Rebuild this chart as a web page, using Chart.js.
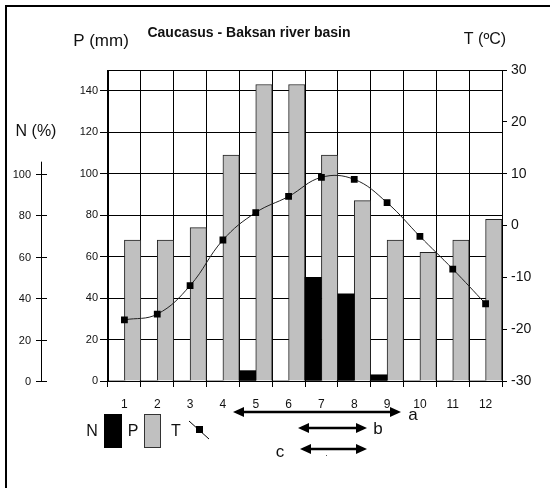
<!DOCTYPE html>
<html>
<head>
<meta charset="utf-8">
<script src="https://cdn.jsdelivr.net/npm/chart.js@4"></script>
<style>
  html, body { margin: 0; padding: 0; background: #fff; }
  #wrap { width: 550px; height: 488px; position: relative; }
</style>
</head>
<body>
<div id="wrap"><canvas id="chart"></canvas></div>
<script>
// months on the x axis
const months = ['1', '2', '3', '4', '5', '6', '7', '8', '9', '10', '11', '12'];
// N (%) - black bars
const nValues = [0, 0, 0, 0, 5, 0, 50, 42, 3, 0, 0, 0];
// P (mm) - grey bars
const pValues = [68, 68, 74, 109, 143, 143, 109, 87, 68, 62, 68, 78];
// T (ºC) - line with squares
const tValues = [-18.2, -17.1, -11.6, -2.8, 2.5, 5.6, 9.3, 8.9, 4.4, -2.1, -8.4, -15.1];
// N axis tick labels
const nTicks = [0, 20, 40, 60, 80, 100];

const FONT = "'Liberation Sans', Arial, sans-serif";
const TXT = '#111';

// extra drawing: frame, titles, N axis, legend and arrows
const extras = {
    id: 'extras',
    afterDraw(chart) {
        const ctx = chart.ctx;
        const area = chart.chartArea;
        const y = chart.scales.y;
        ctx.save();

        // frame (only top and left visible in the original)
        ctx.strokeStyle = '#000';
        ctx.lineWidth = 2;
        ctx.beginPath();
        ctx.moveTo(6, 488); ctx.lineTo(6, 6); ctx.lineTo(550, 6);
        ctx.stroke();

        // top border of plot
        ctx.lineWidth = 1;
        ctx.beginPath();
        ctx.moveTo(area.left, area.top + 0.5); ctx.lineTo(area.right, area.top + 0.5);
        ctx.stroke();

        ctx.fillStyle = TXT;
        ctx.textBaseline = 'middle';
        ctx.textAlign = 'center';
        ctx.font = 'bold 14px ' + FONT;
        ctx.fillText('Caucasus - Baksan river basin', 249, 33);
        ctx.font = '17px ' + FONT;
        ctx.fillText('P (mm)', 101, 41);
        ctx.font = '16px ' + FONT;
        ctx.fillText('T (ºC)', 485, 40);
        ctx.fillText('N (%)', 36, 132);

        // N axis
        const nx = 41.5;
        ctx.beginPath();
        ctx.moveTo(nx, y.getPixelForValue(100) - 12);
        ctx.lineTo(nx, y.getPixelForValue(0));
        ctx.stroke();
        ctx.font = '11px ' + FONT;
        ctx.textAlign = 'right';
        nTicks.forEach(v => {
            const py = Math.round(y.getPixelForValue(v)) + 0.5;
            ctx.beginPath();
            ctx.moveTo(36, py); ctx.lineTo(47, py);
            ctx.stroke();
            ctx.fillText(String(v), 31, py);
        });

        // legend
        ctx.textAlign = 'center';
        ctx.font = '16px ' + FONT;
        ctx.fillText('N', 92, 432);
        ctx.fillStyle = '#000';
        ctx.fillRect(104, 414, 18, 34);
        ctx.fillStyle = TXT;
        ctx.fillText('P', 133, 432);
        ctx.fillStyle = '#c0c0c0';
        ctx.fillRect(144, 414, 17, 34);
        ctx.strokeStyle = '#333';
        ctx.strokeRect(144.5, 414.5, 16, 33);
        ctx.fillStyle = TXT;
        ctx.fillText('T', 176, 432);
        ctx.strokeStyle = '#000';
        ctx.beginPath();
        ctx.moveTo(189, 421); ctx.lineTo(209, 439);
        ctx.stroke();
        ctx.fillStyle = '#000';
        ctx.fillRect(196, 426, 7, 7);

        // arrows
        function arrow(x1, x2, yy) {
            ctx.strokeStyle = '#000';
            ctx.fillStyle = '#000';
            ctx.lineWidth = 2.5;
            ctx.beginPath();
            ctx.moveTo(x1 + 8, yy); ctx.lineTo(x2 - 8, yy);
            ctx.stroke();
            ctx.beginPath();
            ctx.moveTo(x1, yy); ctx.lineTo(x1 + 11, yy - 5); ctx.lineTo(x1 + 11, yy + 5); ctx.closePath();
            ctx.fill();
            ctx.beginPath();
            ctx.moveTo(x2, yy); ctx.lineTo(x2 - 11, yy - 5); ctx.lineTo(x2 - 11, yy + 5); ctx.closePath();
            ctx.fill();
        }
        arrow(233, 401, 412);
        arrow(298, 367, 428);
        arrow(300, 367, 449);
        ctx.fillStyle = TXT;
        ctx.font = '17px ' + FONT;
        ctx.fillText('a', 413, 415);
        ctx.fillText('b', 378, 429);
        ctx.fillText('c', 280, 452);
        ctx.fillStyle = '#555';
        ctx.fillRect(326, 455, 1, 1);

        ctx.restore();
    }
};

new Chart(document.getElementById('chart'), {
    type: 'bar',
    data: {
        labels: months,
        datasets: [
            {
                label: 'N',
                data: nValues,
                backgroundColor: '#000',
                borderWidth: 0,
                barPercentage: 1,
                categoryPercentage: 1,
                yAxisID: 'y',
                order: 2
            },
            {
                label: 'P',
                data: pValues,
                backgroundColor: '#c0c0c0',
                borderColor: '#222',
                borderWidth: 1,
                barPercentage: 1,
                categoryPercentage: 1,
                yAxisID: 'y',
                order: 2
            },
            {
                type: 'line',
                label: 'T',
                data: tValues,
                borderColor: '#222',
                borderWidth: 1,
                tension: 0.4,
                pointStyle: 'rect',
                pointRadius: 4.8,
                pointBackgroundColor: '#000',
                pointBorderColor: '#000',
                pointBorderWidth: 0,
                yAxisID: 't',
                order: 0
            }
        ]
    },
    options: {
        responsive: true,
        maintainAspectRatio: false,
        animation: false,
        layout: { padding: { top: 70, left: 0, right: 0, bottom: 0 } },
        plugins: {
            legend: { display: false },
            tooltip: { enabled: false },
            title: { display: false }
        },
        scales: {
            x: {
                offset: true,
                grid: { color: '#000', offset: true, tickLength: 6, lineWidth: 1 },
                border: { color: '#000' },
                ticks: { color: TXT, padding: 10, font: { family: FONT, size: 12 } },
                afterFit: s => { s.height = 107; }
            },
            y: {
                position: 'left',
                min: 0,
                max: 150,
                ticks: { stepSize: 20, color: TXT, padding: 2, font: { family: FONT, size: 11 } },
                grid: { color: '#000', tickLength: 8, lineWidth: 1 },
                border: { color: '#000' },
                // keep only the 20-step ticks, drop the 150 at the top
                afterBuildTicks: s => { s.ticks = s.ticks.filter(t => t.value % 20 === 0); },
                afterFit: s => { s.width = 108; }
            },
            t: {
                position: 'right',
                min: -30,
                max: 30,
                ticks: { stepSize: 10, color: TXT, padding: 4, font: { family: FONT, size: 14 } },
                grid: { drawOnChartArea: false, color: '#000', tickLength: 5 },
                border: { color: '#000' },
                afterFit: s => { s.width = 48; }
            }
        }
    },
    plugins: [extras]
});
</script>
</body>
</html>
